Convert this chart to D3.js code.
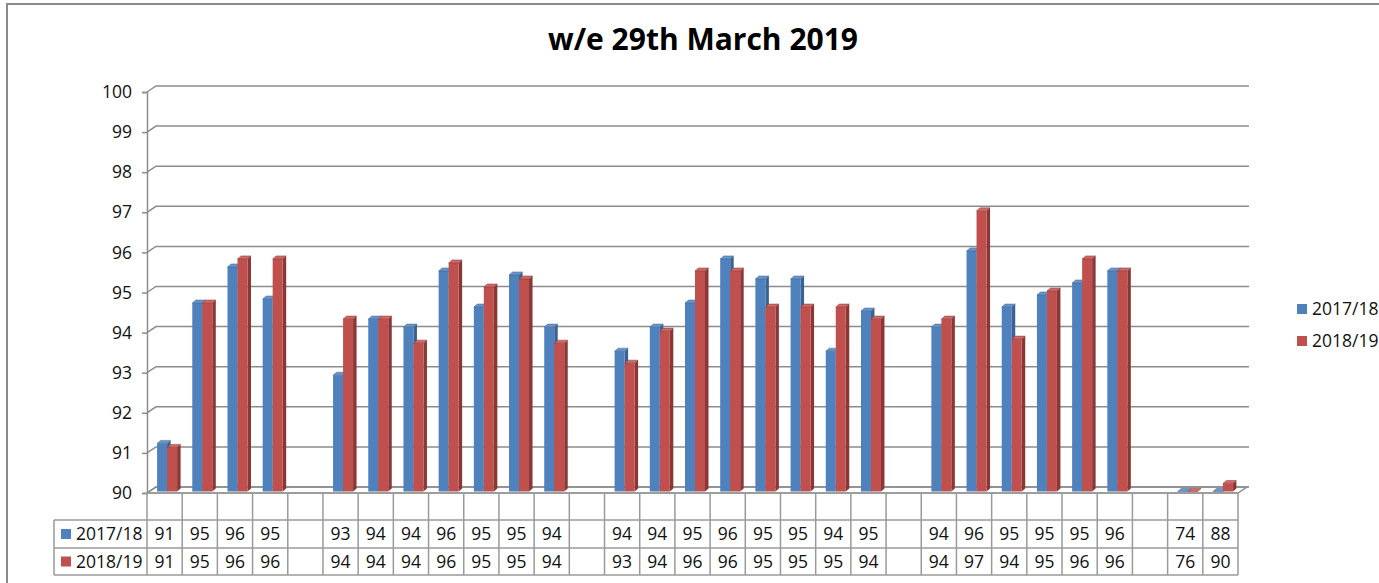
<!DOCTYPE html>
<html>
<head>
<meta charset="utf-8">
<script src="https://cdn.jsdelivr.net/npm/d3@7"></script>
<style>
  html, body { margin: 0; padding: 0; background: #fff; }
  svg { display: block; font-family: "Open Sans", sans-serif; }
</style>
</head>
<body>
<svg id="chart" width="1379" height="583"></svg>
<script>
// data (null = empty column)
const categories = d3.range(31);
const seriesNames = ['2017/18', '2018/19'];
const values1718 = [91.2, 94.7, 95.6, 94.8, null, 92.9, 94.3, 94.1, 95.5, 94.6, 95.4, 94.1, null,
    93.5, 94.1, 94.7, 95.8, 95.3, 95.3, 93.5, 94.5, null, 94.1, 96.0, 94.6, 94.9, 95.2, 95.5, null, 74, 88];
const values1819 = [91.1, 94.7, 95.8, 95.8, null, 94.3, 94.3, 93.7, 95.7, 95.1, 95.3, 93.7, null,
    93.2, 94.0, 95.5, 95.5, 94.6, 94.6, 94.6, 94.3, null, 94.3, 97.0, 93.8, 95.0, 95.8, 95.5, null, 76, 90.2];
const yTicks = d3.range(90, 101, 1);

const colors = [
    { front: '#4f81bd', top: '#6b95c8', side: '#3a6393' },
    { front: '#c0504d', top: '#cc6a67', side: '#8a3735' }
];
const grid = '#8c8c8c';
const textColor = '#111';

// fake 3D depth offsets
const depth = { dx: 9, dy: -6 };
const barDepth = { dx: 3.5, dy: -3 };
const barShift = { dx: 2.5, dy: -1.5 };

const svg = d3.select('#chart');

const x = d3.scaleBand().domain(categories).range([147, 1238]).padding(0);
const y = d3.scaleLinear().domain([90, 100]).range([493, 92]);
const barW = 10;

// outer frame
svg.append('path')
    .attr('d', 'M7,583 L7,4 L1379,4')
    .attr('fill', 'none')
    .attr('stroke', '#8a8a8a')
    .attr('stroke-width', 2);

// title
svg.append('text')
    .attr('x', 703)
    .attr('y', 50)
    .attr('text-anchor', 'middle')
    .attr('font-size', 30)
    .attr('font-weight', 'bold')
    .attr('fill', '#000')
    .text('w/e 29th March 2019');

// floor
const x0 = x.range()[0], x1 = x.range()[1];
svg.append('path')
    .attr('d', `M${x0},${y(90)} L${x1},${y(90)} L${x1 + depth.dx},${y(90) + depth.dy} L${x0 + depth.dx},${y(90) + depth.dy} Z`)
    .attr('fill', '#fff')
    .attr('stroke', grid)
    .attr('stroke-width', 1.5);

// gridlines on back + side wall
svg.append('g')
    .selectAll('path')
    .data(yTicks)
    .join('path')
    .attr('d', t => `M${x0},${y(t)} L${x0 + depth.dx},${y(t) + depth.dy} L${x1 + depth.dx + 2},${y(t) + depth.dy}`)
    .attr('fill', 'none')
    .attr('stroke', grid)
    .attr('stroke-width', 1.5);

// y axis
const yAxis = svg.append('g')
    .attr('transform', `translate(${x0},0)`)
    .call(d3.axisLeft(y).tickValues(yTicks).tickSize(5).tickPadding(10));
yAxis.select('.domain').attr('stroke', grid).attr('stroke-width', 1.5);
yAxis.selectAll('.tick line').attr('stroke', grid).attr('stroke-width', 1.5);
yAxis.selectAll('.tick text')
    .attr('font-size', 17.5)
    .attr('font-family', '"Open Sans", sans-serif')
    .attr('fill', textColor);

// bars
const bars = svg.append('g');
const allSeries = [values1718, values1819];
categories.forEach(i => {
    allSeries.forEach((vals, s) => {
        const v = vals[i];
        if (v === null) return;
        const c = colors[s];
        const xb = x(i) + x.bandwidth() / 2 - barW + s * barW + barShift.dx;
        const yb = y(90) + barShift.dy;
        const yt = y(Math.max(90, Math.min(100, v))) + barShift.dy;
        const g = bars.append('g');
        g.append('path')
            .attr('d', `M${xb + barW},${yt} L${xb + barW + barDepth.dx},${yt + barDepth.dy} L${xb + barW + barDepth.dx},${yb + barDepth.dy} L${xb + barW},${yb} Z`)
            .attr('fill', c.side);
        if (yb - yt > 0) {
            g.append('rect')
                .attr('x', xb).attr('y', yt)
                .attr('width', barW).attr('height', yb - yt)
                .attr('fill', c.front);
        }
        g.append('path')
            .attr('d', `M${xb},${yt} L${xb + barW},${yt} L${xb + barW + barDepth.dx},${yt + barDepth.dy} L${xb + barDepth.dx},${yt + barDepth.dy} Z`)
            .attr('fill', c.top)
            .attr('stroke', c.side)
            .attr('stroke-width', 0.5);
    });
});

// data table
const tableLeft = 54;
const rowY = [520, 548, 575];
const table = svg.append('g').attr('stroke', '#9a9a9a').attr('stroke-width', 1.5);
table.append('line')
    .attr('x1', x0).attr('x2', x1).attr('y1', y(90)).attr('y2', y(90));
rowY.forEach(ry => {
    table.append('line').attr('x1', tableLeft).attr('x2', x1).attr('y1', ry).attr('y2', ry);
});
table.append('line').attr('x1', tableLeft).attr('x2', tableLeft).attr('y1', rowY[0]).attr('y2', rowY[2]);
d3.range(categories.length + 1).forEach(k => {
    const xx = k < categories.length ? x(categories[k]) : x1;
    table.append('line').attr('x1', xx).attr('x2', xx).attr('y1', y(90)).attr('y2', rowY[2]);
});

allSeries.forEach((vals, s) => {
    const cy = (rowY[s] + rowY[s + 1]) / 2;
    svg.append('rect')
        .attr('x', 61).attr('y', cy - 5)
        .attr('width', 10).attr('height', 10)
        .attr('fill', colors[s].front);
    svg.append('text')
        .attr('x', 76).attr('y', cy)
        .attr('dy', '0.36em')
        .attr('font-size', 17.5)
        .attr('fill', textColor)
        .text(seriesNames[s]);
    svg.append('g')
        .selectAll('text')
        .data(categories.filter(i => vals[i] !== null))
        .join('text')
        .attr('x', i => x(i) + x.bandwidth() / 2)
        .attr('y', cy)
        .attr('dy', '0.36em')
        .attr('text-anchor', 'middle')
        .attr('font-size', 17.5)
        .attr('fill', textColor)
        .text(i => Math.round(vals[i]));
});

// legend
const legend = svg.append('g').attr('transform', 'translate(1297,309)');
seriesNames.forEach((name, s) => {
    const ly = s * 32;
    legend.append('rect')
        .attr('x', 0).attr('y', ly - 5)
        .attr('width', 10).attr('height', 10)
        .attr('fill', colors[s].front);
    legend.append('text')
        .attr('x', 15).attr('y', ly)
        .attr('dy', '0.36em')
        .attr('font-size', 17.5)
        .attr('fill', textColor)
        .text(name);
});
</script>
</body>
</html>
